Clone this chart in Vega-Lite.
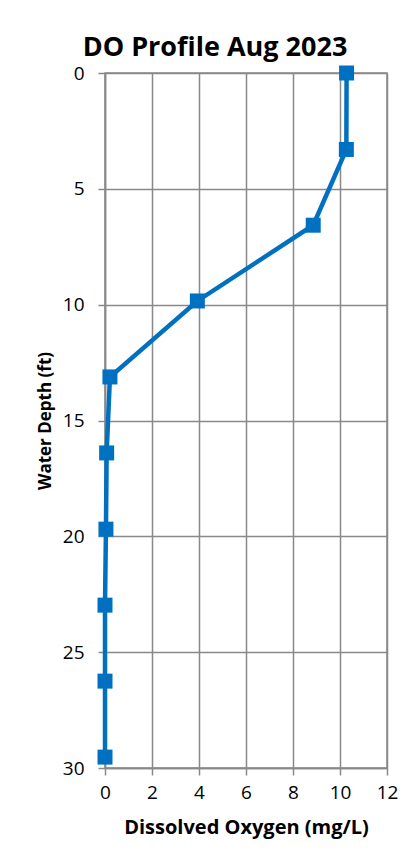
{
  "$schema": "https://vega.github.io/schema/vega-lite/v6.json",
  "width": 282,
  "height": 695,
  "autosize": {"type": "none"},
  "padding": {"left": 105, "top": 73, "right": 23, "bottom": 91},
  "background": "white",
  "title": {
    "text": "DO Profile Aug 2023",
    "font": "Open Sans",
    "fontSize": 27,
    "fontWeight": "bold",
    "color": "#000000",
    "anchor": "middle",
    "dx": -31,
    "offset": 2
  },
  "config": {
    "view": {"stroke": "#898989", "strokeWidth": 1.5},
    "axis": {
      "labelFont": "Open Sans",
      "titleFont": "Open Sans",
      "labelColor": "#000000",
      "titleColor": "#000000",
      "gridColor": "#898989",
      "gridWidth": 1.5,
      "gridOpacity": 1,
      "domainColor": "#898989",
      "domainWidth": 1.5,
      "tickColor": "#898989",
      "tickWidth": 1.5,
      "tickSize": 7,
      "labelFlush": false
    }
  },
  "data": {
    "values": [
      {"depth": 0, "do": 10.28},
      {"depth": 3.3, "do": 10.27},
      {"depth": 6.57, "do": 8.86},
      {"depth": 9.84, "do": 3.93},
      {"depth": 13.12, "do": 0.21},
      {"depth": 16.4, "do": 0.07},
      {"depth": 19.69, "do": 0.04},
      {"depth": 22.97, "do": 0.0},
      {"depth": 26.25, "do": 0.0},
      {"depth": 29.53, "do": 0.0}
    ]
  },
  "encoding": {
    "x": {
      "field": "do",
      "type": "quantitative",
      "scale": {"domain": [0, 12], "nice": false, "zero": false},
      "axis": {
        "values": [0, 2, 4, 6, 8, 10, 12],
        "title": "Dissolved Oxygen (mg/L)",
        "titleFontSize": 20,
        "titleFontWeight": "bold",
        "titlePadding": 15,
        "labelFontSize": 19,
        "labelPadding": 8,
        "grid": true
      }
    },
    "y": {
      "field": "depth",
      "type": "quantitative",
      "scale": {"domain": [0, 30], "reverse": true, "nice": false, "zero": false},
      "axis": {
        "values": [0, 5, 10, 15, 20, 25, 30],
        "title": "Water Depth (ft)",
        "titleFontSize": 17,
        "titleFontWeight": "bold",
        "titlePadding": 8,
        "labelFontSize": 19,
        "labelPadding": 14,
        "grid": true
      }
    }
  },
  "layer": [
    {
      "mark": {"type": "line", "color": "#0070C0", "strokeWidth": 4.5},
      "encoding": {"order": {"field": "depth", "type": "quantitative"}}
    },
    {
      "mark": {"type": "point", "shape": "square", "filled": true, "size": 225, "color": "#0070C0", "opacity": 1}
    }
  ]
}
